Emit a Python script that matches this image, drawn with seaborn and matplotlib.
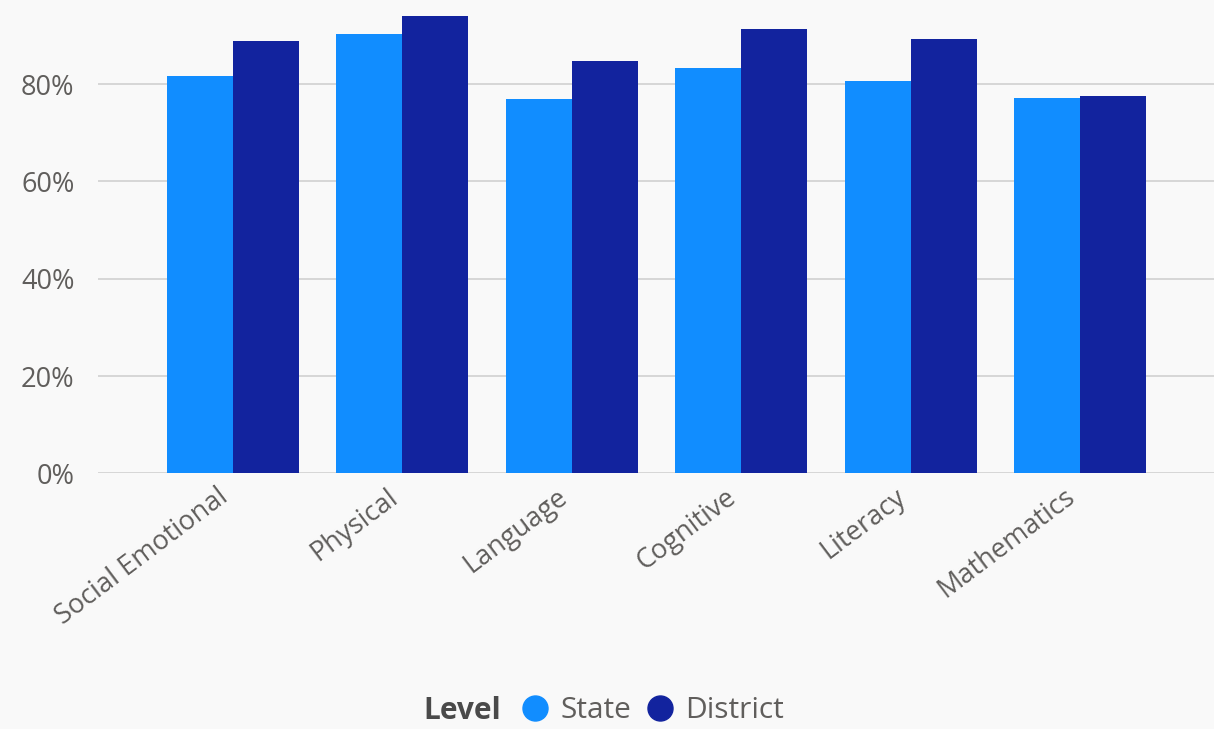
import matplotlib
matplotlib.use("Agg")
import matplotlib.pyplot as plt
from matplotlib.lines import Line2D
import matplotlib.transforms as mtransforms
import seaborn as sns
import pandas as pd

categories = ["Social Emotional", "Physical", "Language", "Cognitive", "Literacy", "Mathematics"]
state_values = [81.6, 90.4, 76.9, 83.4, 80.6, 77.1]
district_values = [88.8, 94.0, 84.7, 91.4, 89.3, 77.6]
levels = ["State", "District"]
level_colors = ["#118DFF", "#12239E"]
y_ticks = [0, 20, 40, 60, 80]

df = pd.DataFrame({
    "Category": categories * 2,
    "Value": state_values + district_values,
    "Level": ["State"] * len(categories) + ["District"] * len(categories),
})

bg = "#f9f9f9"
sns.set_theme(style="white")
plt.rcParams["font.family"] = ["Open Sans", "DejaVu Sans"]

fig = plt.figure(figsize=(12.14, 7.29), dpi=100, facecolor=bg)
ax = fig.add_axes([98 / 1214, (729 - 473.3) / 729, 1 - 98 / 1214, 473.3 / 729])
ax.set_facecolor(bg)

sns.barplot(data=df, x="Category", y="Value", hue="Level", hue_order=levels,
            palette=level_colors, saturation=1, width=0.78, gap=0,
            linewidth=0, edgecolor="none", legend=False, ax=ax, zorder=3)

ax.set_ylim(0, 97.3)
ax.set_xlim(-0.795, 5.79)
ax.set_yticks(y_ticks)
ax.set_yticklabels([f"{v}%" for v in y_ticks])
ax.yaxis.grid(True, color="#d4d4d4", linewidth=1.3, zorder=0)
ax.set_axisbelow(True)
for s in ax.spines.values():
    s.set_visible(False)
ax.set_xlabel("")
ax.set_ylabel("")
ax.tick_params(axis="y", length=0, pad=17, labelsize=19.5, labelcolor="#605E5C")
ax.tick_params(axis="x", length=0, pad=7, labelsize=19.5, labelcolor="#605E5C")
offset = mtransforms.ScaledTranslation(-16 / 100, 0, fig.dpi_scale_trans)
for lbl in ax.get_xticklabels():
    lbl.set_rotation(37)
    lbl.set_ha("right")
    lbl.set_va("top")
    lbl.set_rotation_mode("anchor")
    lbl.set_transform(lbl.get_transform() + offset)

ly = (729 - 711) / 729
fig.text(423 / 1214, ly, "Level", fontsize=21.5, fontweight="bold",
         color="#4a4a4a", ha="left", va="center")
handles = [Line2D([0], [0], marker="o", linestyle="none", markersize=18,
                  markerfacecolor=c, markeredgecolor=c) for c in level_colors]
leg = fig.legend(handles, levels, loc="center left",
                 bbox_to_anchor=(520 / 1214, ly), ncol=2,
                 frameon=False, fontsize=21.5, handletextpad=0.35,
                 columnspacing=0.45, handlelength=1.0, borderpad=0, borderaxespad=0)
for t in leg.get_texts():
    t.set_color("#605E5C")

fig.savefig("out.png", dpi=100, facecolor=bg)
